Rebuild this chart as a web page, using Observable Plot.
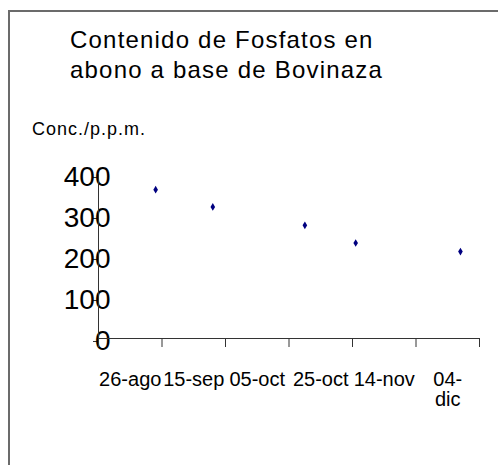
<!DOCTYPE html>
<html>
<head>
<meta charset="utf-8">
<script src="https://cdn.jsdelivr.net/npm/d3@7"></script>
<script src="https://cdn.jsdelivr.net/npm/@observablehq/plot@0.6"></script>
<style>
  html, body { margin: 0; padding: 0; background: #fff; }
  #wrap { position: relative; width: 498px; height: 465px; overflow: hidden; font-family: "Liberation Sans", Arial, sans-serif; }
  #border { position: absolute; left: 8px; top: 10px; width: 600px; height: 600px; border-left: 2px solid #6b6b6b; border-top: 2px solid #6b6b6b; }
  #title { position: absolute; left: 70px; top: 25px; font-size: 24px; line-height: 30px; letter-spacing: 1.2px; color: #000; white-space: nowrap; }
  #ylabel { position: absolute; left: 32px; top: 121px; font-size: 18px; line-height: 17px; letter-spacing: 1.0px; color: #000; white-space: nowrap; }
  #chart { position: absolute; left: 0; top: 0; }
</style>
</head>
<body>
<div id="wrap">
  <div id="border"></div>
  <div id="chart"></div>
  <div id="title">Contenido de Fosfatos en<br>abono a base de Bovinaza</div>
  <div id="ylabel">Conc./p.p.m.</div>
</div>
<script>
// ---- data ----
const sampleDates = ["2004-09-03", "2004-09-21", "2004-10-20", "2004-11-05", "2004-12-08"];
const concentrations = [363, 321, 276, 233, 212];
const xLabelDates = ["2004-08-26", "2004-09-15", "2004-10-05", "2004-10-25", "2004-11-14", "2004-12-04"];
const xLabels = ["26-ago", "15-sep", "05-oct", "25-oct", "14-nov", "04-\ndic"];
const yTicks = [0, 100, 200, 300, 400];

const parse = d3.utcParse("%Y-%m-%d");
const data = sampleDates.map((d, i) => ({date: parse(d), value: concentrations[i]}));
const labelDates = xLabelDates.map(parse);
// tick marks sit between label slots (20-day major unit)
const boundaryTicks = [d3.utcDay.offset(labelDates[0], -10), ...labelDates.map(d => d3.utcDay.offset(d, 10))];
const xDomain = [boundaryTicks[0], boundaryTicks[boundaryTicks.length - 1]];
const labelMap = new Map(labelDates.map((d, i) => [+d, xLabels[i]]));

const tallDiamond = {
  draw(ctx) {
    const h = 3.8, w = 2.3;
    ctx.moveTo(0, -h);
    ctx.lineTo(w, 0);
    ctx.lineTo(0, h);
    ctx.lineTo(-w, 0);
    ctx.closePath();
  }
};

const chart = Plot.plot({
  width: 498,
  height: 465,
  marginLeft: 98,
  marginRight: 19,
  marginTop: 174,
  marginBottom: 127,
  style: {fontFamily: "'Liberation Sans', Arial, sans-serif", color: "#000", background: "transparent", overflow: "visible"},
  x: {type: "utc", domain: xDomain},
  y: {domain: [0, 400]},
  marks: [
    Plot.axisY(yTicks, {tickSize: 5, tickPadding: -17, fontSize: 28, dy: 3, stroke: "#333", tickFormat: d => String(d), label: null}),
    Plot.axisX(boundaryTicks, {tickSize: 9, tickFormat: () => "", stroke: "#333", label: null}),
    Plot.axisX(labelDates, {tickSize: 0, tickPadding: 33, fontSize: 20, tickFormat: d => labelMap.get(+d), label: null}),
    Plot.ruleY([0], {stroke: "#333"}),
    Plot.ruleX([xDomain[0]], {y1: 0, y2: 400, stroke: "#333"}),
    Plot.dot(data, {x: "date", y: "value", symbol: tallDiamond, fill: "#000080", stroke: "none"})
  ]
});
document.getElementById("chart").appendChild(chart);
</script>
</body>
</html>
